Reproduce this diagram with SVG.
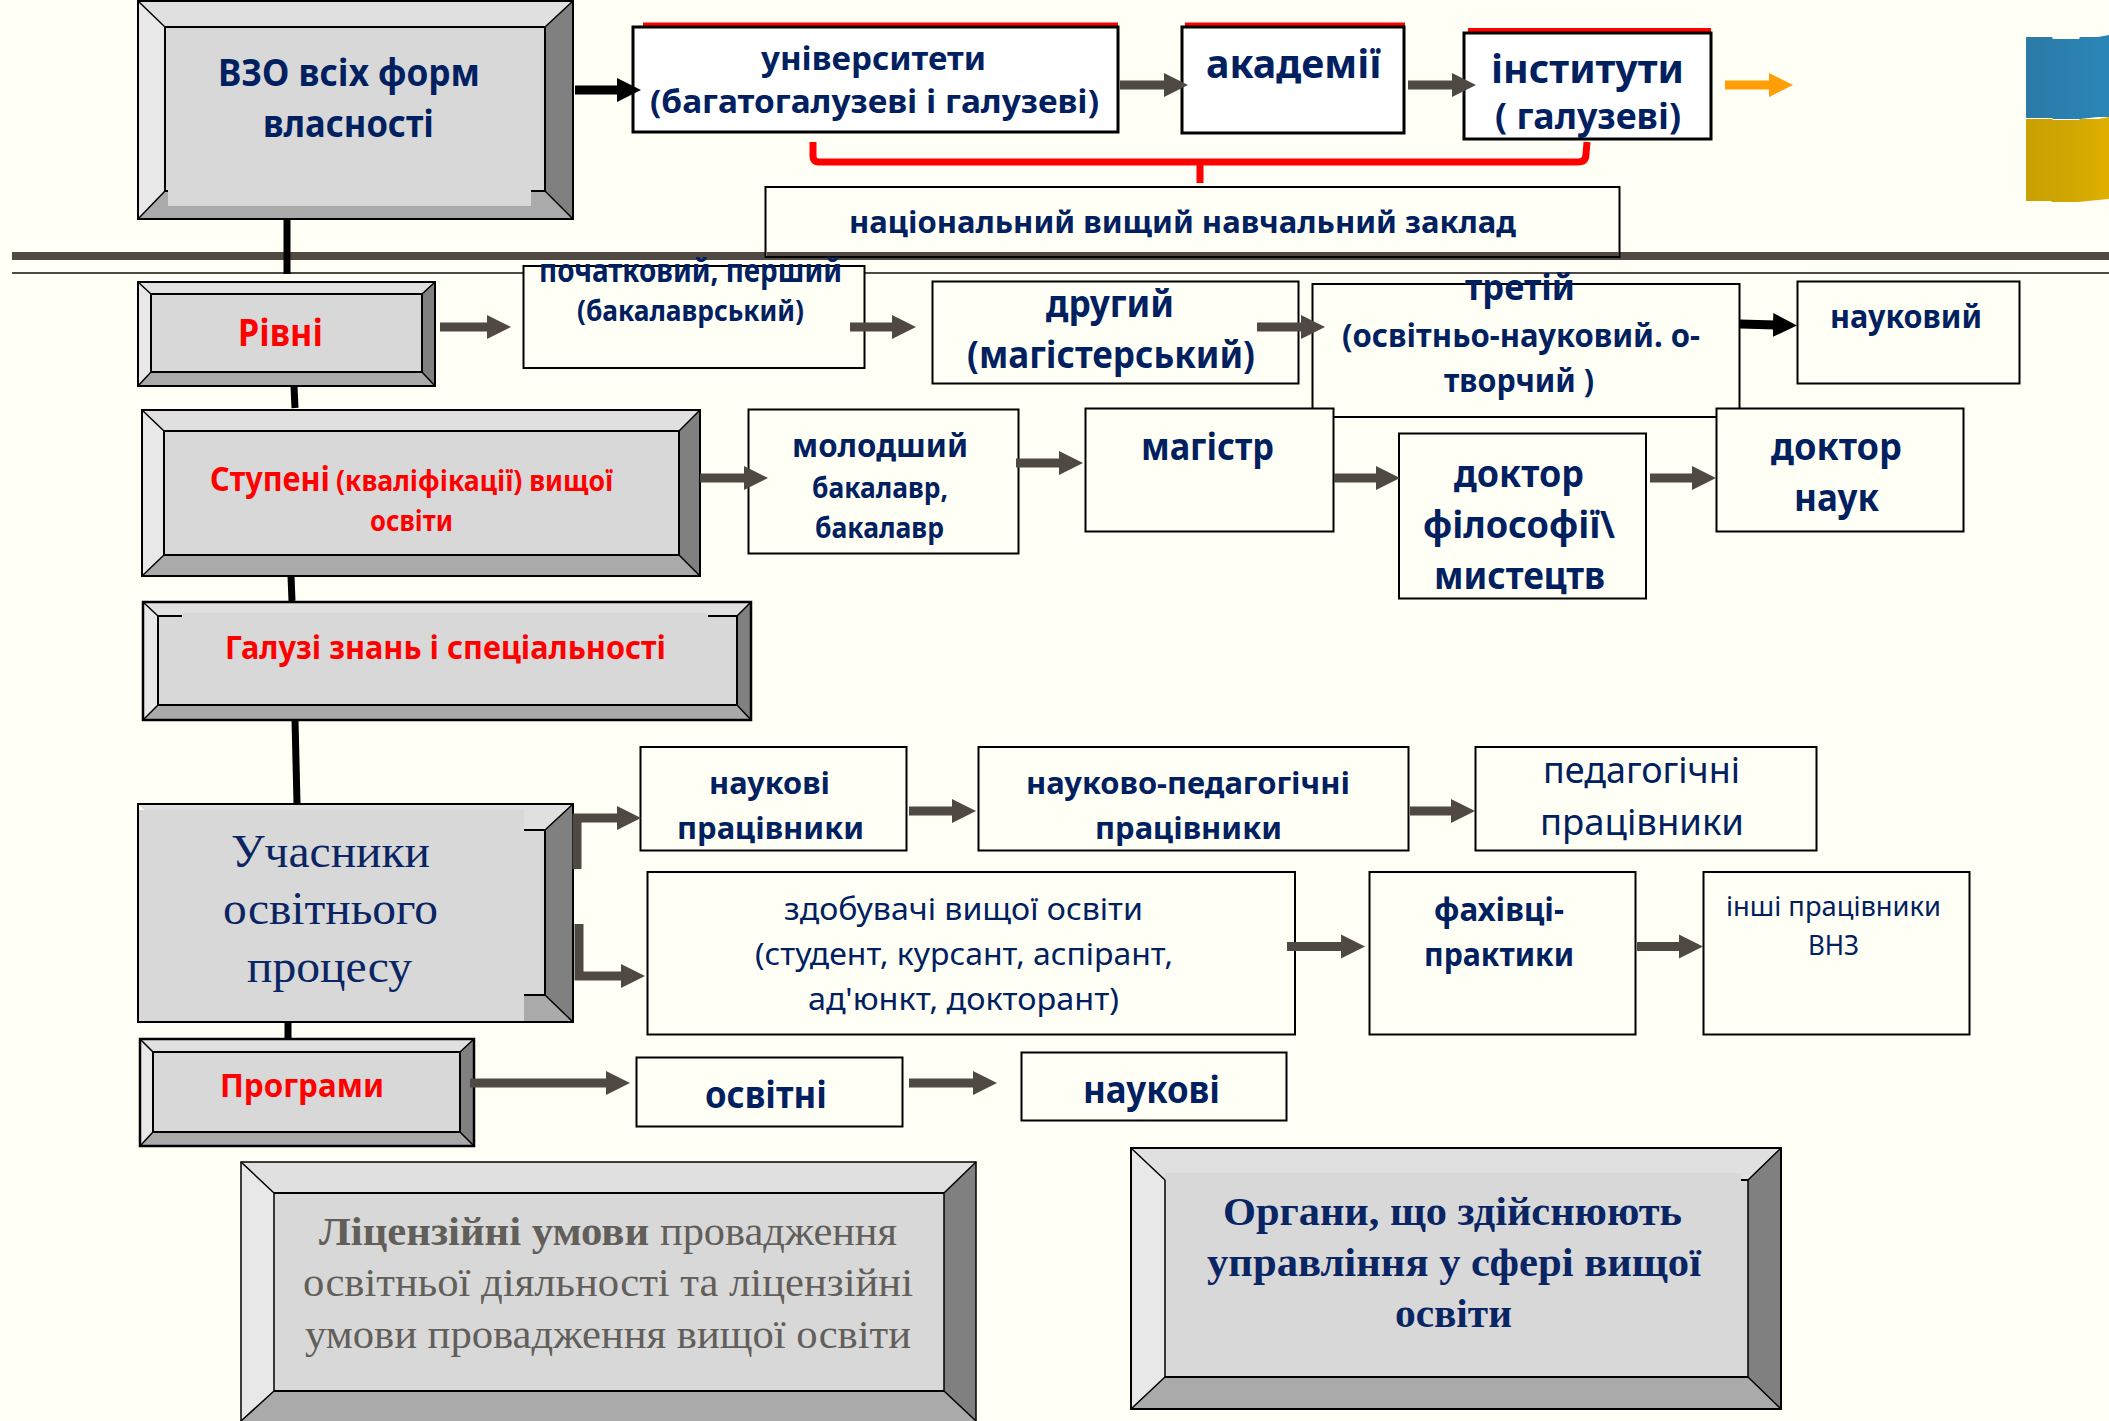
<svg xmlns="http://www.w3.org/2000/svg" width="2109" height="1421" viewBox="0 0 2109 1421">
<style>
.bg{fill:#fffff5}
.t{fill:#e0e0e0}.l{fill:#e8e8e8}.r{fill:#808080}.b{fill:#aaaaaa}.c{fill:#d8d8d8}
.e{fill:none;stroke:#000;stroke-width:2;stroke-linejoin:miter}
.d{fill:none;stroke:#000;stroke-width:1.5}
.box{fill:#fffff5;stroke:#000;stroke-width:2}
.wb{fill:#fff;stroke:#000;stroke-width:3}
.s{font-family:"Noto Sans","Open Sans",sans-serif;font-weight:700;fill:#002060}
.n{font-family:"Noto Sans","Open Sans",sans-serif;font-weight:400;fill:#002060}
.f{font-family:"Liberation Serif","Times New Roman",serif;fill:#0a2563}
.red{fill:#ff0000}.gr{fill:#625e5a}
.link{fill:none;stroke-linejoin:miter}
.g{stroke:#4f4843;stroke-width:9}
.k{stroke:#000;stroke-width:9}
.o{stroke:#ff9f05;stroke-width:9}
.rl{fill:none;stroke:#ff0000;stroke-width:7;stroke-linejoin:round}
.v{stroke:#000;stroke-width:7;fill:none}
</style>
<defs>
<marker id="ag" markerUnits="userSpaceOnUse" markerWidth="26" markerHeight="26" refX="3" refY="13" orient="auto"><path d="M0 1L24 13L0 25Z" fill="#4f4843"/></marker>
<marker id="ak" markerUnits="userSpaceOnUse" markerWidth="26" markerHeight="26" refX="3" refY="13" orient="auto"><path d="M0 1L24 13L0 25Z" fill="#000"/></marker>
<marker id="ao" markerUnits="userSpaceOnUse" markerWidth="26" markerHeight="26" refX="3" refY="13" orient="auto"><path d="M0 1L24 13L0 25Z" fill="#ff9f05"/></marker>
<linearGradient id="fb" x1="0" x2="1" y1="0" y2="0"><stop offset="0" stop-color="#2c7aa6"/><stop offset="1" stop-color="#2a86b8"/></linearGradient>
<linearGradient id="fy" x1="0" x2="1" y1="0" y2="0"><stop offset="0" stop-color="#c9a000"/><stop offset="0.5" stop-color="#cfa602"/><stop offset="1" stop-color="#e0b000"/></linearGradient>
</defs>
<rect class="bg" width="2109" height="1421"/>

<g id="flag">
<path d="M2026 37H2052L2053 39H2079L2080 37H2098L2109 35V117L2098 117L2080 119H2053L2052 118H2026Z" fill="url(#fb)"/>
<path d="M2026 119H2052L2053 120H2079L2080 119H2098L2109 117V199L2098 200L2078 202H2052L2051 201H2026Z" fill="url(#fy)"/>
</g>

<g id="separators">
<rect x="12" y="252" width="2097" height="8" fill="#4f4843"/>
<rect x="12" y="272" width="2097" height="2" fill="#4f4843"/>
</g>

<g id="spine">
<path class="v" d="M287 219V274"/>
<path class="v" d="M294 386L295 408"/>
<path class="v" d="M291 576L292 601"/>
<path class="v" d="M295 720L297 803"/>
<path class="v" d="M288 1023V1038"/>
</g>

<g id="vzo">
<polygon class="t" points="138,1 573,1 545,27 165,27"/><polygon class="l" points="138,1 165,27 165,191 138,219"/>
<polygon class="r" points="573,1 573,219 545,191 545,27"/><polygon class="b" points="138,219 165,191 545,191 573,219"/>
<rect class="c" x="165" y="27" width="380" height="164"/>
<rect class="e" x="165" y="27" width="380" height="164"/><rect class="e" x="138" y="1" width="435" height="218"/>
<path class="d" d="M138 1L165 27M573 1L545 27M138 219L165 191M573 219L545 191"/>
<rect class="c" x="168" y="29" width="363" height="177"/>
<text class="s" x="218" y="86" font-size="37" textLength="262" lengthAdjust="spacingAndGlyphs">ВЗО всіх форм</text>
<text class="s" x="263" y="137" font-size="37" textLength="171" lengthAdjust="spacingAndGlyphs">власності</text>
</g>

<g id="universities">
<path d="M643 24.500H1118" stroke="#f00" stroke-width="4"/>
<rect class="wb" x="633" y="27" width="485" height="105"/>
<text class="s" x="761" y="70" font-size="33" textLength="225" lengthAdjust="spacingAndGlyphs">університети</text>
<text class="s" x="650" y="113" font-size="33" textLength="449" lengthAdjust="spacingAndGlyphs">(багатогалузеві і галузеві)</text>
</g>
<g id="academies">
<path d="M1185 24.500H1405" stroke="#f00" stroke-width="4"/>
<rect class="wb" x="1182" y="27" width="222" height="106"/>
<text class="s" x="1206" y="78" font-size="39" textLength="175" lengthAdjust="spacingAndGlyphs">академії</text>
</g>
<g id="institutes">
<path d="M1468 30H1711" stroke="#f00" stroke-width="4"/>
<rect class="wb" x="1464" y="33" width="247" height="106"/>
<text class="s" x="1491" y="83" font-size="40" textLength="193" lengthAdjust="spacingAndGlyphs">інститути</text>
<text class="s" x="1495" y="129" font-size="36" textLength="186" lengthAdjust="spacingAndGlyphs">( галузеві)</text>
</g>
<g id="national">
<rect class="box" x="765.500" y="187" width="854" height="70"/>
<rect x="767" y="252" width="852" height="4" fill="#4f4843"/>
<text class="s" x="849" y="233" font-size="31" textLength="667" lengthAdjust="spacingAndGlyphs">національний вищий навчальний заклад</text>
</g>

<g id="rivni">
<polygon class="t" points="138,282 435,282 422,294 151,294"/><polygon class="l" points="138,282 151,294 151,372 138,386"/>
<polygon class="r" points="435,282 435,386 422,372 422,294"/><polygon class="b" points="138,386 151,372 422,372 435,386"/>
<rect class="c" x="151" y="294" width="271" height="78"/>
<rect class="e" x="151" y="294" width="271" height="78"/><rect class="e" x="138" y="282" width="297" height="104"/>
<path class="d" d="M138 282L151 294M435 282L422 294M138 386L151 372M435 386L422 372"/>
<text class="s red" x="238" y="346" font-size="37" textLength="85" lengthAdjust="spacingAndGlyphs">Рівні</text>
</g>
<g id="level1">
<rect class="box" x="523.500" y="266" width="341" height="102"/>
<text class="s" x="539" y="282" font-size="32" textLength="303" lengthAdjust="spacingAndGlyphs">початковий, перший</text>
<text class="s" x="577" y="321" font-size="29" textLength="227" lengthAdjust="spacingAndGlyphs">(бакалаврський)</text>
</g>
<g id="level2">
<rect class="box" x="932.500" y="281.500" width="366" height="102"/>
<text class="s" x="1046" y="317" font-size="38" textLength="128" lengthAdjust="spacingAndGlyphs">другий</text>
<text class="s" x="967" y="368" font-size="38" textLength="288" lengthAdjust="spacingAndGlyphs">(магістерський)</text>
</g>
<g id="level3">
<rect class="box" x="1312.500" y="284" width="427" height="133"/>
<text class="s" x="1465" y="300" font-size="36" textLength="110" lengthAdjust="spacingAndGlyphs">третій</text>
<text class="s" x="1342" y="347" font-size="32" textLength="358" lengthAdjust="spacingAndGlyphs">(освітньо-науковий. о-</text>
<text class="s" x="1444" y="392" font-size="32" textLength="150" lengthAdjust="spacingAndGlyphs">творчий )</text>
</g>
<g id="level4">
<rect class="box" x="1797.500" y="281.500" width="222" height="102"/>
<text class="s" x="1830" y="328" font-size="32" textLength="152" lengthAdjust="spacingAndGlyphs">науковий</text>
</g>

<g id="stupeni">
<polygon class="t" points="142,410 700,410 679,431 164,431"/><polygon class="l" points="142,410 164,431 164,555 142,576"/>
<polygon class="r" points="700,410 700,576 679,555 679,431"/><polygon class="b" points="142,576 164,555 679,555 700,576"/>
<rect class="c" x="164" y="431" width="515" height="124"/>
<rect class="e" x="164" y="431" width="515" height="124"/><rect class="e" x="142" y="410" width="558" height="166"/>
<path class="d" d="M142 410L164 431M700 410L679 431M142 576L164 555M700 576L679 555"/>
<text class="s red" x="210" y="491" font-size="34" textLength="120" lengthAdjust="spacingAndGlyphs">Ступені</text>
<text class="s red" x="336" y="491" font-size="28" textLength="277" lengthAdjust="spacingAndGlyphs">(кваліфікації) вищої</text>
<text class="s red" x="370" y="531" font-size="28" textLength="83" lengthAdjust="spacingAndGlyphs">освіти</text>
</g>
<g id="deg1">
<rect class="box" x="748.500" y="409.500" width="270" height="144"/>
<text class="s" x="792" y="457" font-size="33" textLength="176" lengthAdjust="spacingAndGlyphs">молодший</text>
<text class="s" x="812" y="498" font-size="29" textLength="136" lengthAdjust="spacingAndGlyphs">бакалавр,</text>
<text class="s" x="815" y="538" font-size="29" textLength="129" lengthAdjust="spacingAndGlyphs">бакалавр</text>
</g>
<g id="deg2">
<rect class="box" x="1085.500" y="408.500" width="248" height="123"/>
<text class="s" x="1141" y="460" font-size="38" textLength="133" lengthAdjust="spacingAndGlyphs">магістр</text>
</g>
<g id="deg3">
<rect class="box" x="1399" y="433.500" width="247" height="165"/>
<text class="s" x="1454" y="487" font-size="38" textLength="130" lengthAdjust="spacingAndGlyphs">доктор</text>
<text class="s" x="1423" y="538" font-size="38" textLength="192" lengthAdjust="spacingAndGlyphs">філософії\</text>
<text class="s" x="1434" y="589" font-size="38" textLength="171" lengthAdjust="spacingAndGlyphs">мистецтв</text>
</g>
<g id="deg4">
<rect class="box" x="1716.500" y="408.500" width="247" height="123"/>
<text class="s" x="1771" y="460" font-size="38" textLength="131" lengthAdjust="spacingAndGlyphs">доктор</text>
<text class="s" x="1794" y="511" font-size="38" textLength="85" lengthAdjust="spacingAndGlyphs">наук</text>
</g>

<g id="galuzi">
<polygon class="t" points="143,602 751,602 737,616 158,616"/><polygon class="l" points="143,602 158,616 158,705 143,720"/>
<polygon class="r" points="751,602 751,720 737,705 737,616"/><polygon class="b" points="143,720 158,705 737,705 751,720"/>
<rect class="c" x="158" y="616" width="579" height="89"/>
<rect class="e" x="158" y="616" width="579" height="89"/>
<rect class="e" x="143" y="602" width="608" height="118" style="stroke-width:2.5"/>
<path class="d" d="M143 602L158 616M751 602L737 616M143 720L158 705M751 720L737 705"/>
<rect class="c" x="182" y="613" width="526" height="5"/>
<text class="s red" x="225" y="659" font-size="32" textLength="441" lengthAdjust="spacingAndGlyphs">Галузі знань і спеціальності</text>
</g>

<g id="uchasnyky">
<polygon class="t" points="138,804 573,804 545,830 165,830"/>
<polygon class="r" points="573,804 573,1022 545,995 545,830"/><polygon class="b" points="138,1022 165,995 545,995 573,1022"/>
<rect class="c" x="165" y="830" width="380" height="165"/>
<rect class="e" x="138" y="804" width="435" height="218"/>
<path class="e" d="M524 830H545V995H524"/><path class="d" d="M573 804L545 830M573 1022L545 995"/>
<rect class="c" x="139" y="810" width="385" height="211"/>
<text class="f" x="231" y="867" font-size="47" textLength="199" lengthAdjust="spacingAndGlyphs">Учасники</text>
<text class="f" x="223" y="924" font-size="47" textLength="215" lengthAdjust="spacingAndGlyphs">освітнього</text>
<text class="f" x="247" y="982" font-size="47" textLength="165" lengthAdjust="spacingAndGlyphs">процесу</text>
</g>
<g id="p1">
<rect class="box" x="640.500" y="747" width="266" height="103.500"/>
<text class="s" x="709" y="794" font-size="31" textLength="121" lengthAdjust="spacingAndGlyphs">наукові</text>
<text class="s" x="677" y="839" font-size="31" textLength="187" lengthAdjust="spacingAndGlyphs">працівники</text>
</g>
<g id="p2">
<rect class="box" x="978.500" y="747" width="430" height="103.500"/>
<text class="s" x="1026" y="794" font-size="31" textLength="324" lengthAdjust="spacingAndGlyphs">науково-педагогічні</text>
<text class="s" x="1095" y="839" font-size="31" textLength="187" lengthAdjust="spacingAndGlyphs">працівники</text>
</g>
<g id="p3">
<rect class="box" x="1475.500" y="747" width="341" height="103.500"/>
<text class="n" x="1543" y="783" font-size="36" textLength="197" lengthAdjust="spacingAndGlyphs">педагогічні</text>
<text class="n" x="1540" y="835" font-size="36" textLength="204" lengthAdjust="spacingAndGlyphs">працівники</text>
</g>
<g id="p4">
<rect class="box" x="647.500" y="872" width="647.500" height="162.500"/>
<text class="n" x="784" y="920" font-size="31" textLength="359" lengthAdjust="spacingAndGlyphs">здобувачі вищої освіти</text>
<text class="n" x="755" y="965" font-size="31" textLength="418" lengthAdjust="spacingAndGlyphs">(студент, курсант, аспірант,</text>
<text class="n" x="808" y="1010" font-size="31" textLength="311" lengthAdjust="spacingAndGlyphs">ад'юнкт, докторант)</text>
</g>
<g id="p5">
<rect class="box" x="1369.500" y="872" width="266" height="162.500"/>
<text class="s" x="1434" y="921" font-size="32" textLength="130" lengthAdjust="spacingAndGlyphs">фахівці-</text>
<text class="s" x="1424" y="966" font-size="32" textLength="150" lengthAdjust="spacingAndGlyphs">практики</text>
</g>
<g id="p6">
<rect class="box" x="1703.500" y="872" width="266" height="162.500"/>
<text class="n" x="1726" y="916" font-size="27" textLength="215" lengthAdjust="spacingAndGlyphs">інші працівники</text>
<text class="n" x="1808" y="955" font-size="27" textLength="51" lengthAdjust="spacingAndGlyphs">ВНЗ</text>
</g>

<g id="programy">
<polygon class="t" points="140,1039 474,1039 460,1052 153,1052"/><polygon class="l" points="140,1039 153,1052 153,1132 140,1146"/>
<polygon class="r" points="474,1039 474,1146 460,1132 460,1052"/><polygon class="b" points="140,1146 153,1132 460,1132 474,1146"/>
<rect class="c" x="153" y="1052" width="307" height="80"/>
<rect class="e" x="153" y="1052" width="307" height="80"/><rect class="e" x="140" y="1039" width="334" height="107" style="stroke-width:2.5"/>
<path class="d" d="M140 1039L153 1052M474 1039L460 1052M140 1146L153 1132M474 1146L460 1132"/>
<text class="s red" x="220" y="1097" font-size="32" textLength="164" lengthAdjust="spacingAndGlyphs">Програми</text>
</g>
<g id="prog1">
<rect class="box" x="636.500" y="1057.500" width="266" height="69"/>
<text class="s" x="705" y="1108" font-size="38" textLength="122" lengthAdjust="spacingAndGlyphs">освітні</text>
</g>
<g id="prog2">
<rect class="box" x="1021.500" y="1052.500" width="265" height="68"/>
<text class="s" x="1083" y="1103" font-size="38" textLength="137" lengthAdjust="spacingAndGlyphs">наукові</text>
</g>

<g id="license">
<polygon class="t" points="241,1162 976,1162 944,1193 274,1193"/><polygon class="l" points="241,1162 274,1193 274,1391 241,1421"/>
<polygon class="r" points="976,1162 976,1421 944,1391 944,1193"/><polygon class="b" points="241,1421 274,1391 944,1391 976,1421"/>
<rect class="c" x="274" y="1193" width="670" height="198"/>
<path class="e" d="M274 1193H944M274 1391H944"/><rect class="d" x="241" y="1162" width="735" height="262"/>
<path class="d" d="M241 1162L274 1193M976 1162L944 1193M241 1421L274 1391M976 1421L944 1391M274 1193V1391M944 1193V1391"/>
<text class="f gr" font-weight="700" x="319" y="1245" font-size="40" textLength="330" lengthAdjust="spacingAndGlyphs">Ліцензійні умови</text>
<text class="f gr" x="660" y="1245" font-size="40" textLength="237" lengthAdjust="spacingAndGlyphs">провадження</text>
<text class="f gr" x="303" y="1296" font-size="40" textLength="610" lengthAdjust="spacingAndGlyphs">освітньої діяльності та ліцензійні</text>
<text class="f gr" x="305" y="1348" font-size="40" textLength="606" lengthAdjust="spacingAndGlyphs">умови провадження вищої освіти</text>
</g>

<g id="organy">
<polygon class="t" points="1131,1148 1781,1148 1748,1180 1165,1180"/><polygon class="l" points="1131,1148 1165,1180 1165,1377 1131,1409"/>
<polygon class="r" points="1781,1148 1781,1409 1748,1377 1748,1180"/><polygon class="b" points="1131,1409 1165,1377 1748,1377 1781,1409"/>
<rect class="c" x="1165" y="1173" width="576" height="204"/><rect class="c" x="1165" y="1180" width="583" height="197"/>
<path class="d" d="M1165 1180V1377M1748 1180V1377"/><path class="e" d="M1165 1377H1748M1741 1180H1748"/><rect class="e" x="1131" y="1148" width="650" height="261"/>
<path class="d" d="M1131 1148L1165 1180M1781 1148L1748 1180M1131 1409L1165 1377M1781 1409L1748 1377"/>
<text class="f" font-weight="700" x="1223" y="1225" font-size="40" textLength="459" lengthAdjust="spacingAndGlyphs">Органи, що здійснюють</text>
<text class="f" font-weight="700" x="1207" y="1276" font-size="40" textLength="494" lengthAdjust="spacingAndGlyphs">управління у сфері вищої</text>
<text class="f" font-weight="700" x="1395" y="1327" font-size="40" textLength="117" lengthAdjust="spacingAndGlyphs">освіти</text>
</g>

<g id="connectors">
<path class="rl" d="M813 142V156Q813 162 819 162H1578Q1586 162 1586 154L1587 142M1200 160V183"/>
<path class="link k" marker-end="url(#ak)" d="M575 90H620"/>
<path class="link g" marker-end="url(#ag)" d="M1120 85H1167"/>
<path class="link g" marker-end="url(#ag)" d="M1408 85H1455"/>
<path class="link o" marker-end="url(#ao)" d="M1725 85H1772"/>
<path class="link g" marker-end="url(#ag)" d="M440 327H490"/>
<path class="link g" marker-end="url(#ag)" d="M850 327H895"/>
<path class="link g" marker-end="url(#ag)" d="M1257 327H1304"/>
<path class="link k" marker-end="url(#ak)" d="M1740 324L1776 325"/>
<path class="link g" marker-end="url(#ag)" d="M700 478H747"/>
<path class="link g" marker-end="url(#ag)" d="M1016 463H1062"/>
<path class="link g" marker-end="url(#ag)" d="M1334 478H1379"/>
<path class="link g" marker-end="url(#ag)" d="M1650 478H1695"/>
<path class="link g" marker-end="url(#ag)" d="M577 869V818H620"/>
<path class="link g" marker-end="url(#ag)" d="M579 924V976H624"/>
<path class="link g" marker-end="url(#ag)" d="M909 811H955"/>
<path class="link g" marker-end="url(#ag)" d="M1410 811H1454"/>
<path class="link g" marker-end="url(#ag)" d="M1287 946.500H1344"/>
<path class="link g" marker-end="url(#ag)" d="M1637 946.500H1682"/>
<path class="link g" marker-end="url(#ag)" d="M470 1083H609"/>
<path class="link g" marker-end="url(#ag)" d="M909 1083H976"/>
</g>
</svg>
